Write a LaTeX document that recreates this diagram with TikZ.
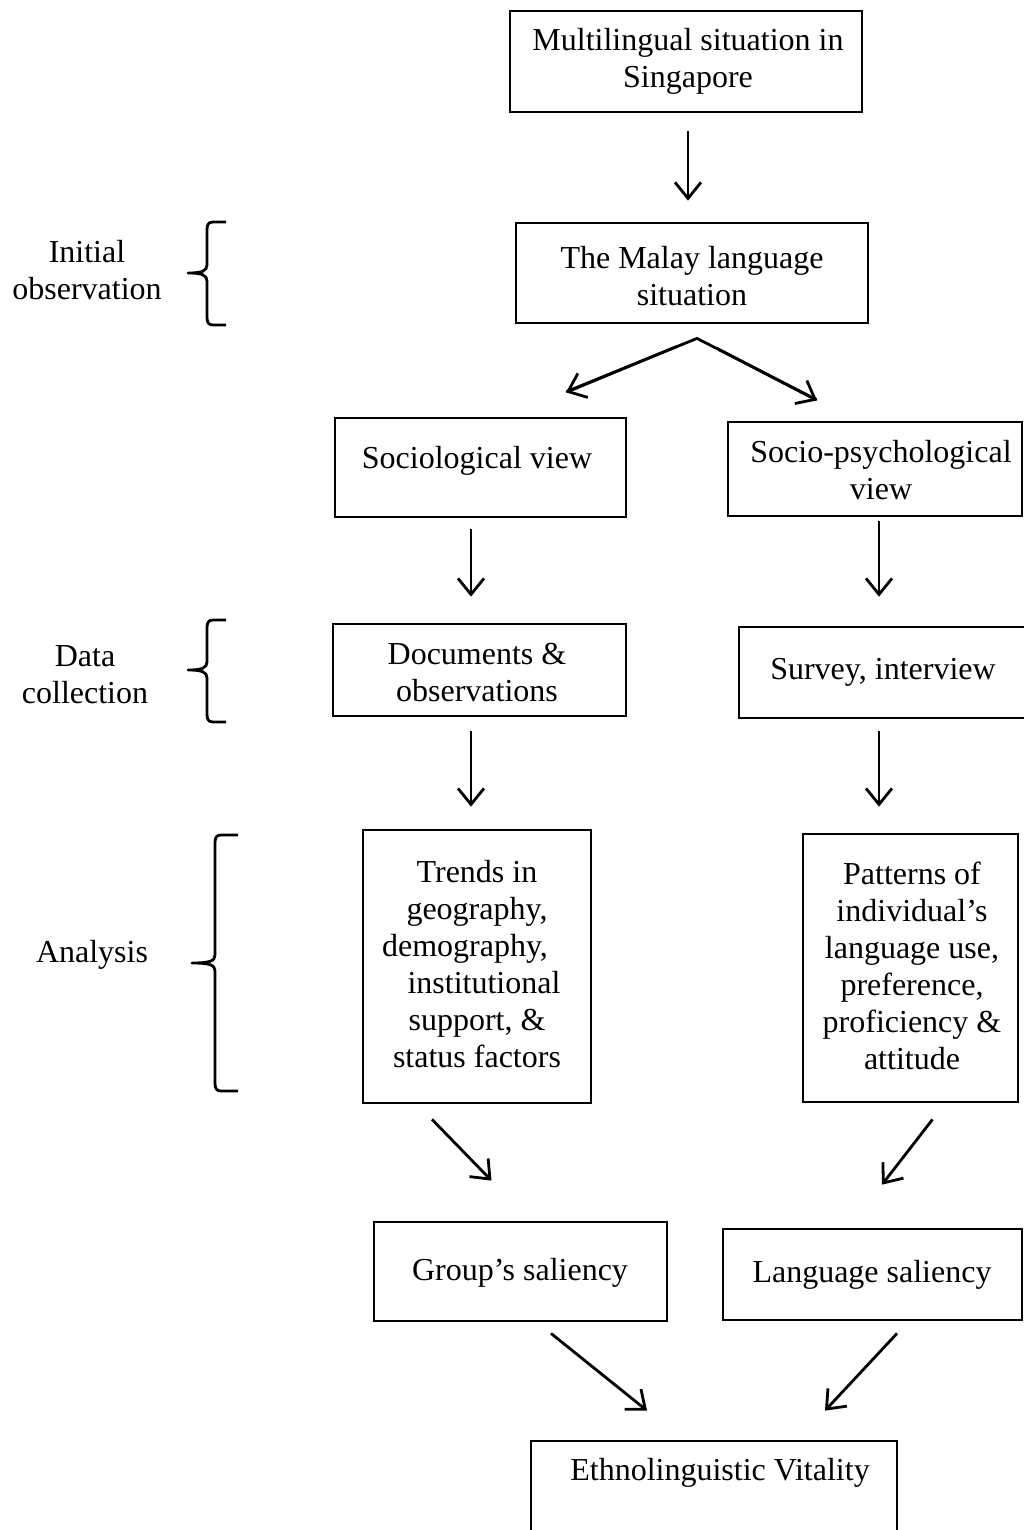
\documentclass[tikz,border=0pt]{standalone}
\usepackage{fontspec}
\setmainfont{Liberation Serif}
\usetikzlibrary{arrows.meta}

\tikzset{
  box/.style={draw, line width=2.8pt, inner sep=0pt, rectangle},
  txt/.style={align=center, inner sep=0pt, font=\fontsize{32}{37}\selectfont},
  arr/.style={line width=2.8pt, -{Straight Barb[length=16pt, width=26pt, line width=2.8pt]}},
  bracepen/.style={line width=2.8pt, line join=round},
}

% curly brace opening to the right: #1 stem x, #2 end x, #3 tip x, #4 top y, #5 tip y, #6 bottom y
\newcommand\stagebrace[7]{%
  \draw[bracepen] (#2,#4) -- ({#1+6},#4) .. controls ({#1+1},#4) and (#1,{#4+3}) .. (#1,{#4+8})
    -- (#1,{#5-8}) .. controls (#1,{#5-2}) and ({#1-5},#5) .. (#3,#5)
    .. controls ({#1-5},#5) and (#1,{#5+2}) .. (#1,{#5+8})
    -- (#1,{#6-8}) .. controls (#1,{#6-3}) and ({#1+1},#6) .. ({#1+6},#6) -- (#2,#6);
  \coordinate (#7) at (#3,#5);
}

\begin{document}
\begin{tikzpicture}[x=1pt, y=-1pt]
\useasboundingbox (0,0) rectangle (1024,1530);
\clip (0,0) rectangle (1024,1530);

% boxes
\node[box, minimum width=352pt, minimum height=101pt] (b1) at (686,61.5) {};
\node[box, minimum width=352pt, minimum height=100pt] (b2) at (692,273) {};
\node[box, minimum width=291pt, minimum height=99pt]  (b3) at (480.5,467.5) {};
\node[box, minimum width=294pt, minimum height=94pt]  (b4) at (875,469) {};
\node[box, minimum width=293pt, minimum height=92pt]  (b5) at (479.5,670) {};
\node[box, minimum width=289pt, minimum height=91pt]  (b6) at (883.5,672.5) {};
\node[box, minimum width=228pt, minimum height=273pt] (b7) at (477,966.5) {};
\node[box, minimum width=215pt, minimum height=268pt] (b8) at (910.5,968) {};
\node[box, minimum width=293pt, minimum height=99pt]  (b9) at (520.5,1271.5) {};
\node[box, minimum width=299pt, minimum height=91pt]  (b10) at (872.5,1274.5) {};
\node[box, minimum width=366pt, minimum height=140pt] (b11) at (714,1511) {};

% box texts
\node[txt] (t1) at (688,61) {Multilingual situation in\\Singapore};
\node[txt] (t2) at (692,276) {The Malay language\\situation};
\node[txt] (t3) at (477,461) {Sociological view};
\node[txt] (t4) at (881,470) {Socio-psychological\\view};
\node[txt] (t5) at (477,673) {Documents \&\\observations};
\node[txt] (t6) at (883,672) {Survey, interview};
\node[txt] (t7) at (477,964) {Trends in\\geography,\\demography,\hspace*{24pt}\null\\\hspace*{14pt}institutional\\support, \&\\status factors};
\node[txt] (t8) at (912,966) {Patterns of\\individual’s\\language use,\\preference,\\proficiency \&\\attitude};
\node[txt] (t9) at (520,1273) {Group’s saliency};
\node[txt] (t10) at (872,1275) {Language saliency};
\node[txt] (t11) at (720,1473) {Ethnolinguistic Vitality};

% stage labels
\node[txt] (l1) at (87,270) {Initial\\observation};
\node[txt] (l2) at (85,675) {Data\\collection};
\node[txt] (l3) at (92,955) {Analysis};

% braces
\stagebrace{207}{226}{188}{222}{273}{325}{c1}
\stagebrace{207}{226}{188}{620}{670}{722}{c2}
\stagebrace{215}{238}{192}{835}{963}{1091}{c3}

% connectors
\draw[arr] ([xshift=2pt,yshift=-18pt]b1.south) -- ([xshift=-4pt,yshift=21pt]b2.north);
\coordinate (fork) at ([xshift=5pt,yshift=-14pt]b2.south);
\draw[line width=2.8pt, line cap=round] ([xshift=-130pt,yshift=-53pt]fork) -- (fork) -- ([xshift=119pt,yshift=-61pt]fork);
\draw[arr] ([xshift=-20pt,yshift=-8pt]fork) -- ([xshift=-131pt,yshift=-54pt]fork);
\draw[arr] ([xshift=20pt,yshift=-10pt]fork) -- ([xshift=120pt,yshift=-62pt]fork);
\draw[arr] ([xshift=-9.5pt,yshift=-10.5pt]b3.south) -- ([xshift=-8.5pt,yshift=26pt]b5.north);
\draw[arr] ([xshift=4pt,yshift=-4pt]b4.south) -- ([xshift=-4.5pt,yshift=29pt]b6.north);
\draw[arr] ([xshift=-8.5pt,yshift=-14pt]b5.south) -- ([xshift=-6pt,yshift=22pt]b7.north);
\draw[arr] ([xshift=-4.5pt,yshift=-12pt]b6.south) -- ([xshift=-31.5pt,yshift=26pt]b8.north);
\draw[arr] ([xshift=-45pt,yshift=-15pt]b7.south) -- ([xshift=-29pt,yshift=40pt]b9.north);
\draw[arr] ([xshift=22pt,yshift=-16pt]b8.south) -- ([xshift=9.5pt,yshift=43pt]b10.north);
\draw[arr] ([xshift=30.5pt,yshift=-11pt]b9.south) -- ([xshift=-67pt,yshift=29pt]b11.north);
\draw[arr] ([xshift=24.5pt,yshift=-12pt]b10.south) -- ([xshift=111pt,yshift=29pt]b11.north);
\end{tikzpicture}
\end{document}
